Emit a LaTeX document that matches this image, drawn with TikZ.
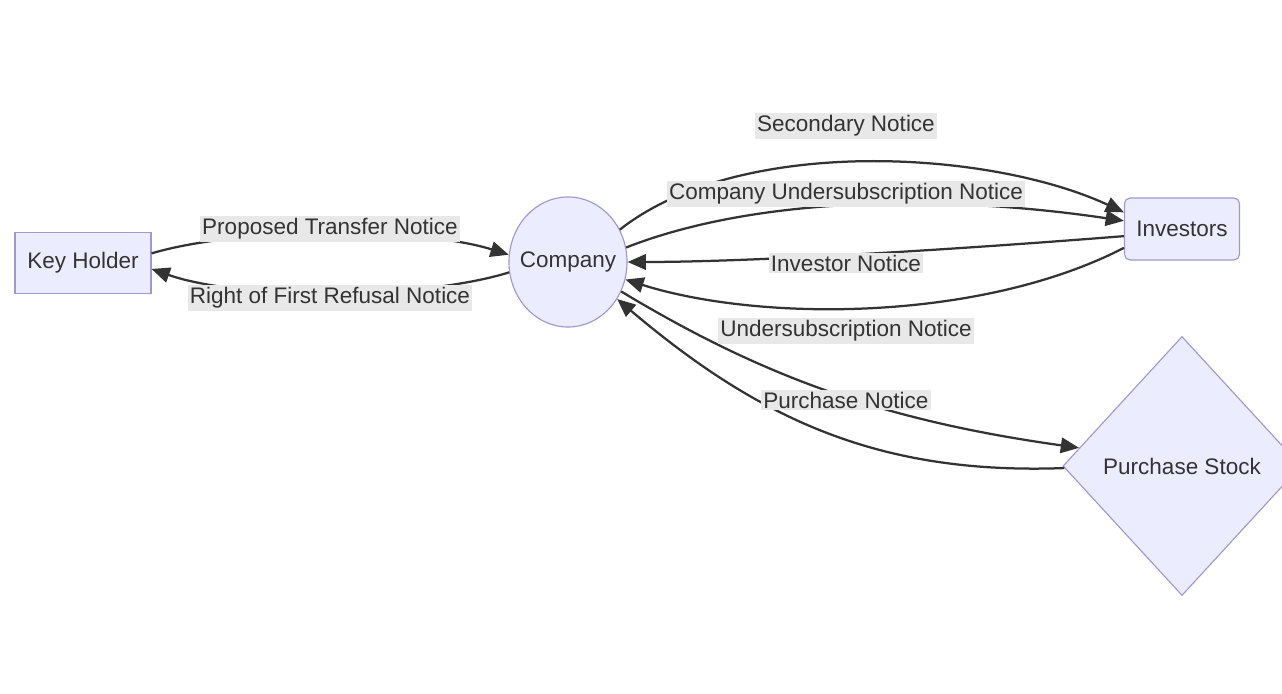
\documentclass[tikz,border=0pt]{standalone}
\usepackage{fontspec}
\setmainfont{Liberation Sans}
\usepackage{tikz}
\usetikzlibrary{shapes.geometric,arrows.meta}
\definecolor{nodefill}{HTML}{ECECFF}
\definecolor{nodeline}{HTML}{A097D0}
\definecolor{ink}{HTML}{333333}
\definecolor{edgebg}{HTML}{E8E8E8}

\begin{document}
\begin{tikzpicture}[
  x=0.025cm, y=-0.025cm,
  every node/.style={font=\fontsize{16}{19}\selectfont, text=ink},
  box/.style={draw=nodeline, fill=nodefill, line width=0.8pt, inner sep=0pt},
  circ/.style={ellipse, draw=nodeline, fill=nodefill, line width=0.8pt, inner sep=0pt,
    minimum width=2.95cm, minimum height=3.25cm},
  dia/.style={diamond, draw=nodeline, fill=nodefill, line width=0.8pt, inner sep=0pt,
    minimum width=5.95cm, minimum height=6.475cm},
  edge/.style={draw=ink, line width=1.6pt, -{Triangle[length=13pt,width=11pt]}},
  lbl/.style={fill=edgebg, inner sep=1.5pt}
]
\useasboundingbox (0,0) rectangle (1282,694);

% nodes
\node[box, minimum width=3.4cm, minimum height=1.525cm] (keyholder) at (83,263) {Key Holder};
\node[circ] (company) at (568,262) {\makebox[0pt]{Company}};
\node[box, rounded corners=4pt, minimum width=2.875cm, minimum height=1.55cm] (investors) at (1182,229) {Investors};
\node[dia] (stock) at (1182,466) {\makebox[0pt]{Purchase Stock}};

% edges
\draw[edge] (keyholder.8) .. controls (240,227) and (420,227) .. (company.173);
\draw[edge] (company.190) .. controls (420,300) and (240,300) .. (keyholder.-5);
\draw[edge] (company.32) .. controls (740,135) and (990,150) .. (investors.164);
\draw[edge] (company.14) .. controls (760,195) and (950,195) .. (investors.172);
\draw[edge] (investors.-173) .. controls (950,250) and (750,262) .. (company.0);
\draw[edge] (investors.-162) .. controls (980,322) and (760,322) .. (company.-17);
\draw[edge] (company.-29) .. controls (760,375) and (880,420) .. (stock.170);
\draw[edge] (stock.181) .. controls (880,475) and (760,420) .. (company.-37);

% labels
\node[lbl] (l-ptn) at (330,229) {Proposed Transfer Notice};
\node[lbl] (l-rofr) at (330,298) {Right of First Refusal Notice};
\node[lbl] (l-sec) at (846,126) {Secondary Notice};
\node[lbl] (l-cun) at (846,194) {Company Undersubscription Notice};
\node[lbl] (l-inv) at (846,263) {Investor Notice};
\node[lbl] (l-un) at (846,331) {Undersubscription Notice};
\node[lbl] (l-pn) at (846,400) {Purchase Notice};
\end{tikzpicture}
\end{document}
